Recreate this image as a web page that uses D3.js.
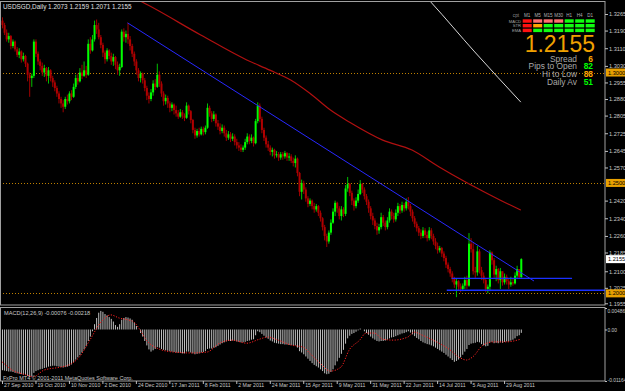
<!DOCTYPE html>
<html><head><meta charset="utf-8">
<script src="https://cdn.jsdelivr.net/npm/d3@7"></script>
<style>body{margin:0;background:#000}svg{display:block}text{font-family:"Liberation Sans",Arial,sans-serif}</style>
</head><body><svg id="c" width="625" height="391"></svg>
<script>
const symbolTitle = "USDSGD,Daily  1.2073 1.2159 1.2071 1.2155";
const dateLabels = ["27 Sep 2010","19 Oct 2010","10 Nov 2010","2 Dec 2010","24 Dec 2010","17 Jan 2011","8 Feb 2011","2 Mar 2011","24 Mar 2011","15 Apr 2011","9 May 2011","31 May 2011","22 Jun 2011","14 Jul 2011","5 Aug 2011","29 Aug 2011"];
const dateLabelBars = [0,16,32,48,64,80,96,112,128,144,160,176,192,208,224,240];
const priceTicks = [1.3265,1.3190,1.3110,1.3030,1.2955,1.2880,1.2805,1.2725,1.2645,1.2570,1.2420,1.2340,1.2260,1.2185,1.2100,1.2025,1.1955];
const levelLines = [1.3000,1.2500,1.2000];
const currentPrice = 1.2155;
const macdTicks = [0.00486,0,-0.01164];
const macdTickText = ["0.00486","0.00","-0.01164"];

const closes = [1.3215,1.3180,1.3150,1.3165,1.3120,1.3140,1.3105,1.3080,1.3095,1.3060,1.3075,1.3040,1.2990,1.2975,1.2985,1.3140,1.3085,1.3050,1.3030,1.3000,
1.3020,1.2985,1.3010,1.2975,1.2955,1.2930,1.2905,1.2880,1.2860,1.2845,1.2880,1.2870,1.2905,1.2890,1.2935,1.2975,1.2960,1.3000,1.2985,1.3010,
1.2990,1.3130,1.3100,1.3150,1.3215,1.3195,1.3160,1.3125,1.3090,1.3060,1.3100,1.3075,1.3050,1.3070,1.3035,1.3010,1.3025,1.3185,1.3160,1.3175,
1.3150,1.3120,1.3085,1.3050,1.3010,1.2975,1.2995,1.2965,1.2930,1.2895,1.2880,1.2910,1.2950,1.2935,1.2990,1.2950,1.2905,1.2870,1.2885,1.2860,
1.2840,1.2855,1.2830,1.2815,1.2800,1.2820,1.2805,1.2795,1.2850,1.2825,1.2785,1.2740,1.2715,1.2735,1.2720,1.2745,1.2730,1.2750,1.2840,1.2815,
1.2790,1.2810,1.2770,1.2755,1.2735,1.2750,1.2725,1.2705,1.2720,1.2700,1.2710,1.2685,1.2670,1.2660,1.2650,1.2660,1.2685,1.2710,1.2690,1.2705,
1.2680,1.2780,1.2850,1.2790,1.2740,1.2705,1.2675,1.2660,1.2640,1.2650,1.2625,1.2630,1.2615,1.2630,1.2620,1.2635,1.2615,1.2620,1.2600,1.2590,
1.2610,1.2545,1.2460,1.2500,1.2470,1.2430,1.2405,1.2420,1.2395,1.2380,1.2395,1.2365,1.2340,1.2300,1.2260,1.2235,1.2275,1.2320,1.2370,1.2410,
1.2385,1.2350,1.2380,1.2360,1.2475,1.2495,1.2455,1.2420,1.2395,1.2420,1.2450,1.2495,1.2470,1.2440,1.2415,1.2385,1.2350,1.2330,1.2305,1.2285,
1.2300,1.2345,1.2320,1.2300,1.2330,1.2370,1.2350,1.2335,1.2365,1.2395,1.2375,1.2400,1.2385,1.2415,1.2395,1.2370,1.2340,1.2315,1.2295,1.2275,
1.2260,1.2285,1.2265,1.2250,1.2285,1.2260,1.2235,1.2215,1.2195,1.2205,1.2180,1.2160,1.2130,1.2110,1.2090,1.2065,1.2040,1.2055,1.2030,1.2020,
1.2035,1.2060,1.2035,1.2225,1.2200,1.2100,1.2095,1.2190,1.2105,1.2080,1.2060,1.2020,1.2030,1.2185,1.2150,1.2085,1.2110,1.2060,1.2100,1.2050,
1.2075,1.2055,1.2040,1.2050,1.2045,1.2080,1.2110,1.2073,1.2155];

const opens = [1.3235,1.3215,1.3180,1.3150,1.3165,1.3120,1.3140,1.3105,1.3080,1.3095,1.3060,1.3075,1.3040,1.2990,1.2975,1.2985,1.3140,1.3085,1.3050,1.3030,
1.3000,1.3020,1.2985,1.3010,1.2975,1.2955,1.2930,1.2905,1.2880,1.2860,1.2845,1.2880,1.2870,1.2905,1.2890,1.2935,1.2975,1.2960,1.3000,1.2985,
1.3010,1.2990,1.3130,1.3100,1.3150,1.3215,1.3195,1.3160,1.3125,1.3090,1.3060,1.3100,1.3075,1.3050,1.3070,1.3035,1.3010,1.3025,1.3185,1.3160,
1.3175,1.3150,1.3120,1.3085,1.3050,1.3010,1.2975,1.2995,1.2965,1.2930,1.2895,1.2880,1.2910,1.2950,1.2935,1.2990,1.2950,1.2905,1.2870,1.2885,
1.2860,1.2840,1.2855,1.2830,1.2815,1.2800,1.2820,1.2805,1.2795,1.2850,1.2825,1.2785,1.2740,1.2715,1.2735,1.2720,1.2745,1.2730,1.2750,1.2840,
1.2815,1.2790,1.2810,1.2770,1.2755,1.2735,1.2750,1.2725,1.2705,1.2720,1.2700,1.2710,1.2685,1.2670,1.2660,1.2650,1.2660,1.2685,1.2710,1.2690,
1.2705,1.2680,1.2780,1.2850,1.2790,1.2740,1.2705,1.2675,1.2660,1.2640,1.2650,1.2625,1.2630,1.2615,1.2630,1.2620,1.2635,1.2615,1.2620,1.2600,
1.2590,1.2610,1.2545,1.2460,1.2500,1.2470,1.2430,1.2405,1.2420,1.2395,1.2380,1.2395,1.2365,1.2340,1.2300,1.2260,1.2235,1.2275,1.2320,1.2370,
1.2410,1.2385,1.2350,1.2380,1.2360,1.2475,1.2495,1.2455,1.2420,1.2395,1.2420,1.2450,1.2495,1.2470,1.2440,1.2415,1.2385,1.2350,1.2330,1.2305,
1.2285,1.2300,1.2345,1.2320,1.2300,1.2330,1.2370,1.2350,1.2335,1.2365,1.2395,1.2375,1.2400,1.2385,1.2415,1.2395,1.2370,1.2340,1.2315,1.2295,
1.2275,1.2260,1.2285,1.2265,1.2250,1.2285,1.2260,1.2235,1.2215,1.2195,1.2205,1.2180,1.2160,1.2130,1.2110,1.2090,1.2065,1.2040,1.2055,1.2030,
1.2020,1.2035,1.2060,1.2035,1.2225,1.2200,1.2100,1.2095,1.2190,1.2105,1.2080,1.2060,1.2020,1.2030,1.2185,1.2150,1.2085,1.2110,1.2060,1.2100,
1.2050,1.2075,1.2055,1.2040,1.2050,1.2045,1.2080,1.2110,1.2073];

const highs = [1.3250,1.3225,1.3195,1.3180,1.3170,1.3150,1.3145,1.3115,1.3110,1.3100,1.3090,1.3080,1.3045,1.3000,1.2995,1.3150,1.3150,1.3095,1.3060,1.3045,
1.3035,1.3025,1.3025,1.3015,1.2985,1.2965,1.2940,1.2915,1.2890,1.2875,1.2890,1.2900,1.2915,1.2920,1.2950,1.2990,1.2995,1.3020,1.3035,1.3050,
1.3030,1.3150,1.3160,1.3170,1.3235,1.3240,1.3225,1.3170,1.3135,1.3100,1.3110,1.3105,1.3090,1.3085,1.3075,1.3050,1.3040,1.3195,1.3200,1.3190,
1.3225,1.3165,1.3130,1.3095,1.3060,1.3020,1.3005,1.3000,1.2975,1.2940,1.2910,1.2925,1.2965,1.2970,1.3040,1.3005,1.2960,1.2915,1.2900,1.2895,
1.2870,1.2865,1.2860,1.2850,1.2830,1.2835,1.2830,1.2815,1.2865,1.2855,1.2830,1.2790,1.2750,1.2745,1.2750,1.2755,1.2755,1.2760,1.2860,1.2850,
1.2825,1.2825,1.2815,1.2785,1.2770,1.2765,1.2760,1.2740,1.2735,1.2730,1.2725,1.2720,1.2700,1.2685,1.2675,1.2670,1.2700,1.2725,1.2720,1.2720,
1.2710,1.2790,1.2865,1.2860,1.2800,1.2750,1.2715,1.2690,1.2670,1.2660,1.2655,1.2645,1.2640,1.2640,1.2640,1.2645,1.2640,1.2635,1.2630,1.2615,
1.2625,1.2615,1.2550,1.2515,1.2510,1.2480,1.2440,1.2430,1.2425,1.2410,1.2405,1.2400,1.2375,1.2345,1.2310,1.2270,1.2285,1.2335,1.2385,1.2420,
1.2415,1.2395,1.2395,1.2390,1.2490,1.2527,1.2500,1.2465,1.2430,1.2435,1.2470,1.2513,1.2500,1.2480,1.2450,1.2425,1.2395,1.2365,1.2340,1.2320,
1.2315,1.2365,1.2355,1.2330,1.2345,1.2385,1.2380,1.2365,1.2380,1.2410,1.2405,1.2415,1.2410,1.2430,1.2436,1.2405,1.2380,1.2350,1.2325,1.2305,
1.2290,1.2300,1.2295,1.2280,1.2300,1.2295,1.2270,1.2250,1.2230,1.2215,1.2210,1.2190,1.2170,1.2140,1.2120,1.2100,1.2075,1.2065,1.2060,1.2045,
1.2045,1.2075,1.2080,1.2273,1.2250,1.2230,1.2120,1.2215,1.2200,1.2120,1.2095,1.2070,1.2040,1.2195,1.2190,1.2160,1.2125,1.2115,1.2115,1.2100,
1.2090,1.2085,1.2070,1.2075,1.2065,1.2095,1.2125,1.2110,1.2159];

const lows = [1.3200,1.3170,1.3140,1.3135,1.3105,1.3110,1.3095,1.3070,1.3065,1.3045,1.3050,1.3025,1.2960,1.2890,1.2935,1.2975,1.3070,1.3035,1.3010,1.2985,
1.2980,1.2960,1.2950,1.2960,1.2935,1.2915,1.2890,1.2860,1.2840,1.2820,1.2835,1.2855,1.2860,1.2875,1.2885,1.2925,1.2945,1.2955,1.2970,1.2980,
1.2975,1.2985,1.3085,1.3095,1.3140,1.3175,1.3150,1.3110,1.3070,1.3040,1.3050,1.3060,1.3035,1.3030,1.3015,1.2990,1.2985,1.3020,1.3140,1.3135,
1.3130,1.3100,1.3070,1.3030,1.2990,1.2960,1.2955,1.2950,1.2915,1.2875,1.2860,1.2870,1.2895,1.2920,1.2930,1.2935,1.2890,1.2850,1.2855,1.2840,
1.2820,1.2825,1.2810,1.2800,1.2790,1.2795,1.2790,1.2780,1.2790,1.2810,1.2770,1.2725,1.2700,1.2705,1.2710,1.2715,1.2715,1.2720,1.2745,1.2800,
1.2775,1.2780,1.2755,1.2740,1.2720,1.2725,1.2710,1.2690,1.2695,1.2685,1.2690,1.2670,1.2655,1.2645,1.2640,1.2640,1.2650,1.2675,1.2675,1.2680,
1.2665,1.2675,1.2770,1.2775,1.2725,1.2690,1.2660,1.2645,1.2625,1.2620,1.2610,1.2615,1.2600,1.2605,1.2605,1.2610,1.2600,1.2600,1.2590,1.2575,
1.2570,1.2530,1.2440,1.2425,1.2450,1.2415,1.2390,1.2395,1.2380,1.2365,1.2370,1.2350,1.2325,1.2285,1.2240,1.2210,1.2225,1.2265,1.2315,1.2350,
1.2365,1.2335,1.2330,1.2345,1.2350,1.2460,1.2440,1.2400,1.2375,1.2385,1.2410,1.2445,1.2455,1.2425,1.2400,1.2365,1.2335,1.2310,1.2290,1.2265,
1.2270,1.2290,1.2305,1.2285,1.2290,1.2320,1.2335,1.2320,1.2325,1.2350,1.2360,1.2365,1.2370,1.2375,1.2380,1.2350,1.2325,1.2300,1.2280,1.2260,
1.2245,1.2250,1.2250,1.2235,1.2240,1.2245,1.2220,1.2200,1.2180,1.2185,1.2165,1.2145,1.2115,1.2095,1.2075,1.2050,1.2025,1.1983,1.2015,1.2005,
1.2010,1.2020,1.2020,1.2030,1.2185,1.2085,1.2070,1.2080,1.2090,1.2060,1.2045,1.2005,1.2000,1.2010,1.2130,1.2070,1.2055,1.2045,1.2020,1.2035,
1.2040,1.2040,1.2020,1.2030,1.2035,1.2040,1.2070,1.2065,1.2071];

const macdHist = [-0.0092,-0.0093,-0.0094,-0.0095,-0.0095,-0.0096,-0.0098,-0.0099,-0.0100,-0.0101,-0.0102,-0.0103,-0.0105,-0.0107,-0.0106,-0.0098,-0.0094,-0.0092,-0.0090,-0.0089,
-0.0087,-0.0086,-0.0084,-0.0083,-0.0082,-0.0082,-0.0083,-0.0084,-0.0085,-0.0086,-0.0085,-0.0084,-0.0082,-0.0079,-0.0074,-0.0068,-0.0063,-0.0058,-0.0052,-0.0045,
-0.0038,-0.0026,-0.0016,-0.0004,0.0012,0.0026,0.0038,0.0042,0.0040,0.0035,0.0032,0.0028,0.0024,0.0018,0.0010,0.0006,0.0012,0.0022,0.0026,0.0028,
0.0027,0.0025,0.0022,0.0016,0.0008,0.0000,-0.0008,-0.0016,-0.0026,-0.0036,-0.0045,-0.0050,-0.0047,-0.0044,-0.0040,-0.0041,-0.0044,-0.0046,-0.0047,-0.0048,
-0.0049,-0.0050,-0.0051,-0.0052,-0.0053,-0.0053,-0.0054,-0.0054,-0.0050,-0.0050,-0.0052,-0.0054,-0.0056,-0.0055,-0.0054,-0.0052,-0.0051,-0.0049,-0.0044,-0.0043,
-0.0043,-0.0041,-0.0040,-0.0037,-0.0034,-0.0031,-0.0029,-0.0027,-0.0026,-0.0026,-0.0025,-0.0026,-0.0027,-0.0028,-0.0029,-0.0029,-0.0028,-0.0026,-0.0025,-0.0023,
-0.0022,-0.0013,-0.0004,-0.0006,-0.0010,-0.0014,-0.0018,-0.0021,-0.0025,-0.0027,-0.0030,-0.0031,-0.0032,-0.0033,-0.0033,-0.0034,-0.0034,-0.0035,-0.0035,-0.0036,
-0.0036,-0.0041,-0.0049,-0.0052,-0.0056,-0.0061,-0.0066,-0.0071,-0.0076,-0.0080,-0.0083,-0.0086,-0.0090,-0.0094,-0.0099,-0.0101,-0.0100,-0.0096,-0.0090,-0.0081,
-0.0072,-0.0064,-0.0055,-0.0046,-0.0032,-0.0020,-0.0014,-0.0010,-0.0008,-0.0005,-0.0002,0.0002,0.0000,-0.0004,-0.0008,-0.0012,-0.0016,-0.0020,-0.0023,-0.0026,
-0.0027,-0.0026,-0.0026,-0.0025,-0.0023,-0.0020,-0.0018,-0.0017,-0.0015,-0.0013,-0.0011,-0.0009,-0.0008,-0.0006,-0.0004,-0.0007,-0.0011,-0.0015,-0.0019,-0.0022,
-0.0026,-0.0029,-0.0031,-0.0033,-0.0034,-0.0036,-0.0038,-0.0041,-0.0044,-0.0047,-0.0050,-0.0053,-0.0057,-0.0061,-0.0065,-0.0069,-0.0073,-0.0071,-0.0068,-0.0063,
-0.0057,-0.0050,-0.0044,-0.0035,-0.0032,-0.0031,-0.0030,-0.0028,-0.0029,-0.0033,-0.0036,-0.0038,-0.0037,-0.0029,-0.0028,-0.0031,-0.0030,-0.0031,-0.0029,-0.0030,
-0.0028,-0.0027,-0.0027,-0.0025,-0.0023,-0.0020,-0.0015,-0.0013,-0.00076];

const signalBars = [0,5,12,15,20,28,32,37,42,47,52,56,60,63,66,69,74,82,91,98,104,110,117,123,127,132,138,144,147,152,157,162,166,171,174,178,182,187,194,197,201,206,213,219,222,225,230,235,241,248];
const signalVals = [-0.0073,-0.0092,-0.0103,-0.0107,-0.0092,-0.0085,-0.0080,-0.0062,-0.0024,0.0015,0.0033,0.0026,0.0022,0.0017,-0.0001,-0.0024,-0.0042,-0.0051,-0.0053,-0.0051,-0.0031,-0.0024,-0.0031,-0.0022,-0.0017,-0.0024,-0.0035,-0.0040,-0.0053,-0.0076,-0.0094,-0.0085,-0.0046,-0.0024,-0.0008,-0.0008,-0.0022,-0.0024,-0.0017,-0.0006,-0.0013,-0.0024,-0.0042,-0.0064,-0.0069,-0.0062,-0.0035,-0.0028,-0.0028,-0.00218];

const maRedBars = [58,67,95,117,128,138,147,157,166,182,196,209,238,248];
const maRedVals = [1.3360,1.3319,1.3170,1.3057,1.3011,1.2966,1.2907,1.2830,1.2776,1.2694,1.2649,1.2572,1.2423,1.2377];
const maWhiteBars = [200,205,226,248];
const maWhiteVals = [1.3370,1.3319,1.3093,1.2866];

const trendBars = [60,254.3];
const trendVals = [1.3225,1.2056];
const hlineVals = [1.2068,1.2014];
const hlineFrom = [215,212.6];
const hlineTo = [272.5,290];

const panelCols = ["M1","M5","M15","M30","H1","H4","D1"];
const panelRows = ["MACD","STR","EMA"];
const panelColors = [
  ["#ff1010","#ff7070","#ff7070","#ff7070","#10ff10","#10ff10","#10ff10"],
  ["#ff1010","#ffa500","#10ff10","#10ff10","#10ff10","#10ff10","#10ff10"],
  ["#ff1010","#10ff10","#10ff10","#10ff10","#10ff10","#10ff10","#10ff10"]];
const infoLabels = ["Spread","Pips to Open","Hi to Low","Daily Av"];
const infoValues = ["6","82","88","51"];
const infoColors = ["#ffa500","#00ff00","#ffa500","#00ff00"];

const svg = d3.select("#c");
svg.append("rect").attr("width",625).attr("height",391).attr("fill","#000");

const x = d3.scaleLinear().domain([0,248]).range([2,520.8]);
const y = d3.scaleLinear().domain([1.1955,1.3265]).range([303.3,14]);
const ym = d3.scaleLinear().domain([-0.01164,0.00486]).range([381,308]);

svg.append("clipPath").attr("id","mainClip").append("rect").attr("x",0).attr("y",1.5).attr("width",605).attr("height",303.5);
const main = svg.append("g").attr("clip-path","url(#mainClip)");

// level dotted lines
main.selectAll(".lvl").data(levelLines).join("line")
  .attr("x1",0).attr("x2",605).attr("y1",d=>Math.round(y(d))+0.5).attr("y2",d=>Math.round(y(d))+0.5)
  .attr("stroke","#c08000").attr("stroke-dasharray","1,2").attr("stroke-width",1);

// moving averages
const lineGen = d3.line().curve(d3.curveMonotoneX);
main.append("path").attr("d",lineGen(maRedBars.map((b,i)=>[x(b),y(maRedVals[i])])))
  .attr("fill","none").attr("stroke","#b01010").attr("stroke-width",1.2);
main.append("path").attr("d",lineGen(maWhiteBars.map((b,i)=>[x(b),y(maWhiteVals[i])])))
  .attr("fill","none").attr("stroke","#d8d8d8").attr("stroke-width",1);

// candles
const idx = d3.range(closes.length);
const bull = i => closes[i] >= opens[i];
main.selectAll(".wick").data(idx).join("line")
  .attr("x1",i=>x(i)+0.5).attr("x2",i=>x(i)+0.5)
  .attr("y1",i=>y(highs[i])).attr("y2",i=>y(lows[i]))
  .attr("stroke",i=>bull(i)?"#00c000":"#a00000").attr("stroke-width",1);
main.selectAll(".body").data(idx).join("rect")
  .attr("x",i=>x(i)-0.5).attr("width",2)
  .attr("y",i=>y(Math.max(opens[i],closes[i])))
  .attr("height",i=>Math.max(1,Math.abs(y(opens[i])-y(closes[i]))))
  .attr("fill",i=>bull(i)?"#00ff00":"#b00000");

// trend lines
main.append("line").attr("x1",x(trendBars[0])).attr("y1",y(trendVals[0])).attr("x2",x(trendBars[1])).attr("y2",y(trendVals[1]))
  .attr("stroke","#2828ff").attr("stroke-width",1);
main.selectAll(".hl").data(hlineVals).join("line")
  .attr("x1",(d,i)=>x(hlineFrom[i])).attr("x2",(d,i)=>x(hlineTo[i]))
  .attr("y1",d=>y(d)).attr("y2",d=>y(d))
  .attr("stroke","#1a30ff").attr("stroke-width",1.3);

// frames
svg.append("rect").attr("x",0.5).attr("y",1.5).attr("width",604.5).attr("height",303.5).attr("fill","none").attr("stroke","#a0a0a0");
svg.append("rect").attr("x",0.5).attr("y",307.5).attr("width",604.5).attr("height",73.5).attr("fill","none").attr("stroke","#a0a0a0");

// price axis
const pAxis = svg.append("g").attr("transform","translate(605,0)")
  .call(d3.axisRight(y).tickValues(priceTicks).tickSize(3).tickPadding(1).tickFormat(d3.format(".4f")));
pAxis.select(".domain").remove();
pAxis.selectAll("line").attr("stroke","#c0c0c0");
pAxis.selectAll("text").attr("fill","#c8c8c8").attr("font-size","5.6px").attr("font-family","Liberation Sans, Arial");

// highlighted price labels
const hl = levelLines.map(v=>({v,bg:"#e8a000"})).concat([{v:currentPrice,bg:"#ffffff"}]);
const hg = svg.selectAll(".hlab").data(hl).join("g").attr("transform",d=>`translate(606,${y(d.v)})`);
hg.append("rect").attr("x",0).attr("y",-4).attr("width",19).attr("height",8).attr("fill",d=>d.bg);
hg.append("text").attr("x",2).attr("y",2).attr("font-size","5.6px").attr("fill","#000").text(d=>d3.format(".4f")(d.v));

// MACD histogram
svg.append("g").selectAll("line").data(idx).join("line")
  .attr("x1",i=>x(i)+0.5).attr("x2",i=>x(i)+0.5)
  .attr("y1",ym(0)).attr("y2",i=>ym(macdHist[i]))
  .attr("stroke","#c0c0c0").attr("stroke-width",1);
svg.append("path").attr("d",lineGen(signalBars.map((b,i)=>[x(b),ym(signalVals[i])])))
  .attr("fill","none").attr("stroke","#ff2020").attr("stroke-width",1).attr("stroke-dasharray","1.2,1.5");

// MACD axis
const mAxis = svg.append("g").attr("transform","translate(605,0)")
  .call(d3.axisRight(ym).tickValues(macdTicks).tickSize(2).tickPadding(0.5).tickFormat((d,i)=>macdTickText[i]));
mAxis.select(".domain").remove();
mAxis.selectAll("line").attr("stroke","#c0c0c0");
mAxis.selectAll("text").attr("fill","#c8c8c8").attr("font-size","4.9px")
  .attr("dy",(d,i)=>i===0?"0.9em":(i===2?"0.05em":"0.32em"));

// date axis
const dAxis = svg.append("g").attr("transform","translate(0,381)")
  .call(d3.axisBottom(x).tickValues(dateLabelBars).tickSize(3).tickPadding(1).tickFormat((d,i)=>dateLabels[i]));
dAxis.select(".domain").remove();
dAxis.selectAll("line").attr("stroke","#c0c0c0");
dAxis.selectAll("text").attr("fill","#c8c8c8").attr("font-size","5.2px").attr("text-anchor","start").attr("dx","1.5").attr("dy","0.4em");

// texts
svg.append("text").attr("x",3).attr("y",9).attr("font-size","6.4px").attr("fill","#e0e0e0").text(symbolTitle);
svg.append("text").attr("x",4).attr("y",315).attr("font-size","5.6px").attr("fill","#c8c8c8").text("MACD(12,26,9) -0.00076 -0.00218");
svg.append("text").attr("x",3).attr("y",379.5).attr("font-size","5.5px").attr("fill","#c8c8c8").text("FxPro MT4 \u00a9 2001-2011 MetaQuotes Software Corp.");

// indicator panel
const colX = c => 522.7 + c*10.5;
const rowY = [19.3,24,28.7];
const pg = svg.append("g");
pg.append("text").attr("x",519).attr("y",17.3).attr("font-size","4.6px").attr("fill","#909090").attr("text-anchor","end").text("cpt");
pg.selectAll(".ch").data(panelCols).join("text").attr("x",(d,i)=>colX(i)+4.5).attr("y",17.3)
  .attr("text-anchor","middle").attr("font-size","4.6px").attr("fill","#b0b0b0").text(d=>d);
pg.selectAll(".rl").data(panelRows).join("text").attr("x",521).attr("y",(d,i)=>rowY[i]+3.2)
  .attr("text-anchor","end").attr("font-size","4.2px").attr("fill","#a0a0a0").text(d=>d);
panelRows.forEach((r,ri)=>{
  pg.selectAll(".b"+ri).data(panelColors[ri]).join("rect").attr("x",(d,i)=>colX(i)).attr("y",rowY[ri])
    .attr("width",9).attr("height",3.4).attr("fill",d=>d);
});
svg.append("text").attr("x",595).attr("y",51.6).attr("font-size","23px").attr("fill","#f0a000").attr("text-anchor","end").text(d3.format(".4f")(currentPrice));
const infoY = [61.6,69.2,76.9,84.5];
svg.selectAll(".il").data(infoLabels).join("text").attr("x",577).attr("y",(d,i)=>infoY[i])
  .attr("text-anchor","end").attr("font-size","8.4px").attr("fill","#a8a8a8").text(d=>d);
svg.selectAll(".iv").data(infoValues).join("text").attr("x",593).attr("y",(d,i)=>infoY[i])
  .attr("text-anchor","end").attr("font-size","8.4px").attr("font-weight","bold").attr("fill",(d,i)=>infoColors[i]).text(d=>d);
</script></body></html>
